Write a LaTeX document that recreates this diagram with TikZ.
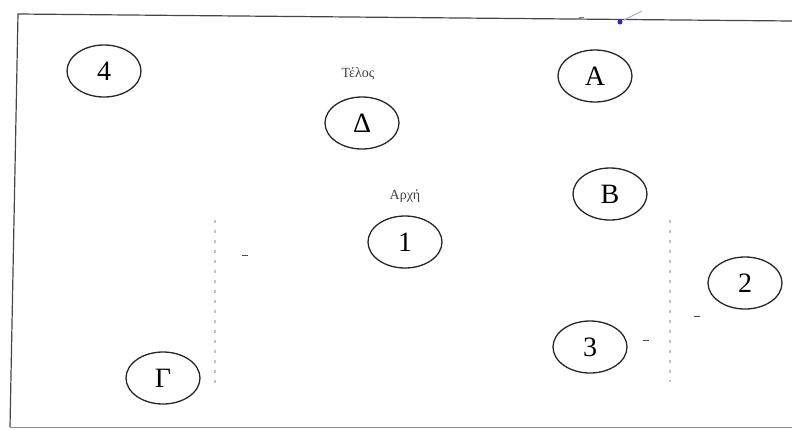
\documentclass[tikz,border=0pt]{standalone}
\usepackage{fontspec}
\setmainfont{Liberation Serif}
\usepackage{tikz}
\usetikzlibrary{shapes.geometric}
\definecolor{scanGray}{RGB}{70,70,70}
\definecolor{dotGray}{RGB}{195,195,195}
\definecolor{penBlue}{RGB}{40,40,210}

\tikzset{
  ring/.style={draw=black!85, line width=1.3pt, ellipse, minimum width=74pt, minimum height=52pt,
               inner sep=0pt, font=\fontsize{28}{28}\selectfont},
  tag/.style={font=\fontsize{14}{14}\selectfont, text=black!75},
  guide/.style={dotGray, line width=1.2pt, dash pattern=on 3pt off 7pt}
}

\begin{document}
\begin{tikzpicture}[x=1pt, y=-1pt]
  \useasboundingbox (0,0) rectangle (792,429);

  % sheet border
  \draw[scanGray, line width=1.2pt] (792,21) -- (18,14) -- (10,427);
  \draw[black!45, line width=0.8pt] (10,427) -- (792,427);

  % pen marks
  \fill[penBlue] (620,22) circle (2.5);
  \draw[penBlue!40, line width=1pt] (624,20) -- (642,11);
  \draw[penBlue!70, line width=1pt] (579,17) -- (584,17);

  % faint guide lines
  \coordinate (gl1) at (215,220);
  \coordinate (gl2) at (215,386);
  \coordinate (gr1) at (670,220);
  \coordinate (gr2) at (670,382);
  \draw[guide] (gl1) -- (gl2);
  \draw[guide] (gr1) -- (gr2);
  \draw[black!70, line width=1pt] (242,255) -- (248,255);
  \draw[black!70, line width=1pt] (694,316) -- (700,316);
  \draw[black!70, line width=1pt] (643,340) -- (649,340);

  % states
  \node[ring] (four) at (104,71) {4};
  \node[ring] (alpha) at (595,76) {Α};
  \node[ring] (delta) at (362,123) {Δ};
  \node[ring] (beta) at (610,194) {Β};
  \node[ring] (one) at (405,242) {1};
  \node[ring] (two) at (745,283) {2};
  \node[ring] (three) at (590,347) {3};
  \node[ring] (gamma) at (163,378) {Γ};

  \node[tag] (end) at (358,74) {Τέλος};
  \node[tag] (start) at (405,196) {Αρχή};
\end{tikzpicture}
\end{document}
